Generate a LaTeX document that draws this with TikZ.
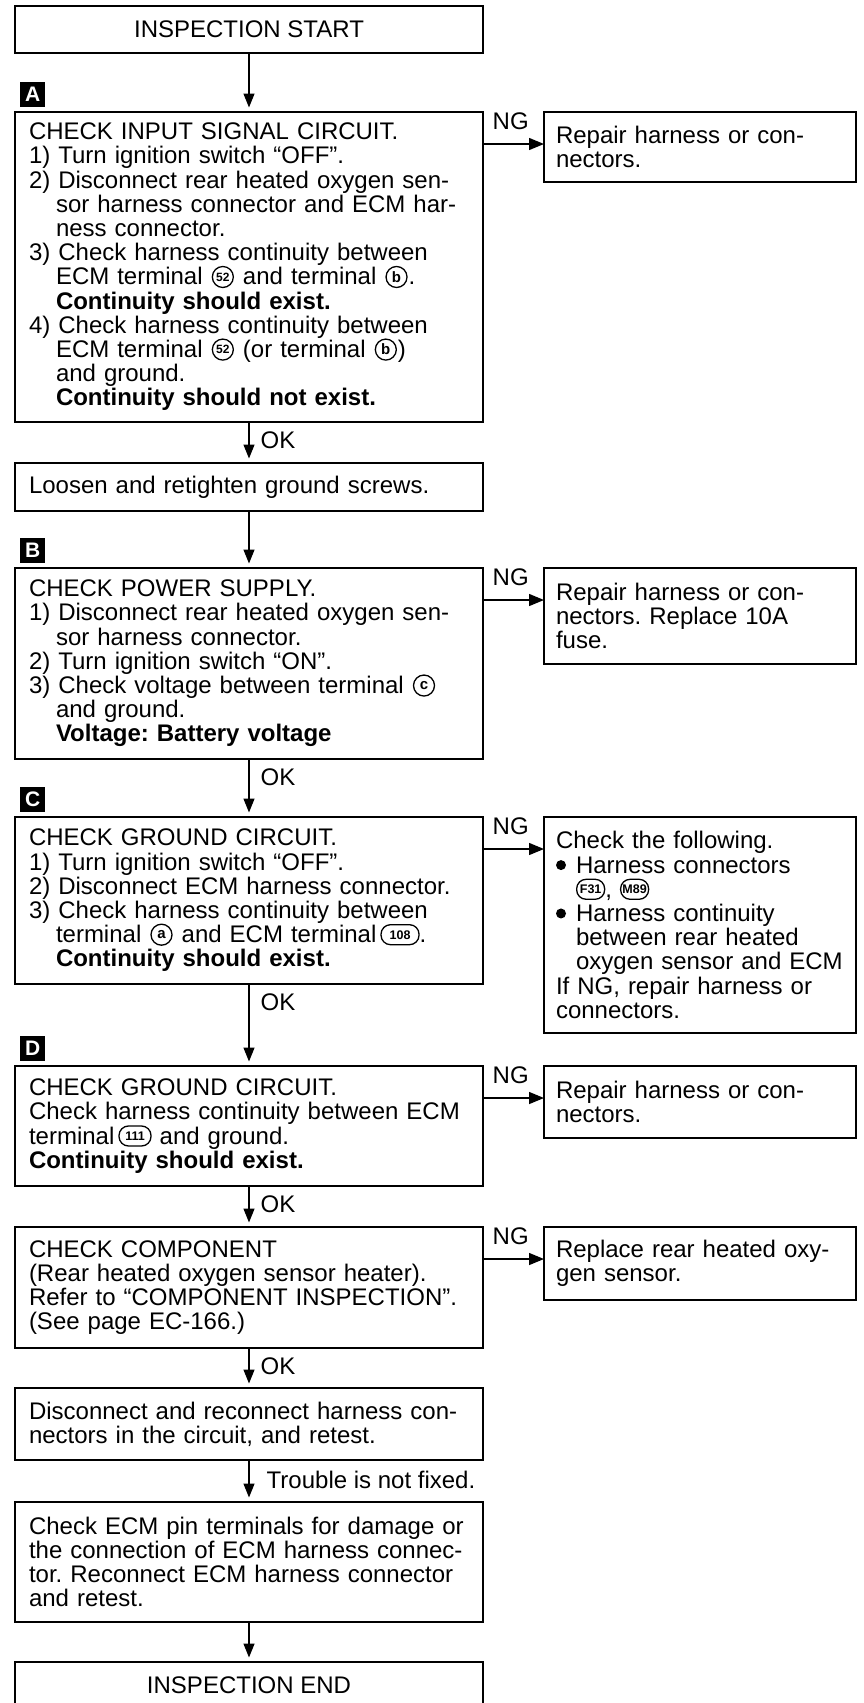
\documentclass[tikz,border=0pt]{standalone}
\usepackage{fontspec}
\setmainfont{Liberation Sans}
\usetikzlibrary{arrows.meta, positioning}
\tikzset{
    chk_box/.style={
        rectangle,
        draw=black,
        line width=1.8pt,
        outer sep=0pt,
        inner xsep=14pt,
        inner ysep=0pt,
        text width=440pt,
        align=left
    },
    chk_term/.style={
        rectangle,
        draw=black,
        line width=1.8pt,
        outer sep=0pt,
        inner sep=0pt,
        minimum width=468pt,
        align=center
    },
    chk_fix/.style={
        rectangle,
        draw=black,
        line width=1.8pt,
        outer sep=0pt,
        inner xsep=12pt,
        inner ysep=0pt,
        text width=288pt,
        align=left
    },
    chk_tag/.style={
        rectangle,
        fill=black,
        text=white,
        minimum size=25pt,
        inner sep=0pt,
        font=\bfseries\fontsize{21pt}{21pt}\selectfont
    },
    chk_mark/.style={
        rectangle,
        inner sep=0pt,
        outer sep=0pt,
        minimum size=0pt,
        text width=,
        align=center,
        anchor=center
    },
    chk_arrow/.style={
        -{Triangle[length=14pt, width=11pt]},
        line width=1.4pt,
        shorten >=4.5pt
    },
    chk_ng_arrow/.style={
        -{Triangle[length=15pt, width=12pt]},
        line width=1.4pt
    },
    chk_ng/.style={
        pos=0,
        anchor=south west,
        inner sep=0pt,
        xshift=9pt,
        yshift=14pt
    },
    chk_ok/.style={
        pos=0,
        anchor=west,
        inner sep=0pt,
        xshift=11pt,
        yshift=-18pt
    }
}
\newcommand{\ind}{\hspace*{27pt}}
\newcommand{\bind}{\hspace*{20pt}}
\newcommand{\blt}{\tikz[baseline=-8pt]\fill (0,0) circle (5pt);\hspace{10pt}}
\newcommand{\cterm}[2][12pt]{\hspace{1pt}\tikz[baseline=-8pt]{
  \draw[line width=1.3pt] (0,0) circle (10.5pt);
  \node[chk_mark, font=\bfseries\fontsize{#1}{#1}\selectfont] at (0,0) {#2};}\hspace{1pt}}
\newcommand{\pterm}[2][30pt]{\tikz[baseline=-8pt]{
  \draw[line width=1.3pt, rounded corners=9.5pt] (-#1/2,-10pt) rectangle (#1/2,10pt);
  \node[chk_mark, font=\bfseries\fontsize{12.5pt}{12.5pt}\selectfont] at (0,0) {#2};}}

\begin{document}
\begin{tikzpicture}[every node/.style={font=\fontsize{24pt}{24.2pt}\selectfont\frenchspacing}]
\useasboundingbox (0,0) rectangle (863pt,-1703pt);
\clip (0,0) rectangle (863pt,-1703pt);

\node[chk_term, minimum height=47pt, anchor=north west] (start) at (15pt,-6pt) {INSPECTION START};

\node[chk_box, minimum height=310pt, below=59pt of start] (chkA)
  {CHECK INPUT SIGNAL CIRCUIT.\\
   1) Turn ignition switch “OFF”.\\
   2) Disconnect rear heated oxygen sen-\\
   \ind sor harness connector and ECM har-\\
   \ind ness connector.\\
   3) Check harness continuity between\\
   \ind ECM terminal \cterm{52} and terminal \cterm[15pt]{b}.\\
   \ind\textbf{Continuity should exist.}\\
   4) Check harness continuity between\\
   \ind ECM terminal \cterm{52} (or terminal \cterm[15pt]{b})\\
   \ind and ground.\\
   \ind\textbf{Continuity should not exist.}};
\node[chk_box, minimum height=48pt, below=41pt of chkA] (ground)
  {Loosen and retighten ground screws.};
\node[chk_box, minimum height=191pt, below=57pt of ground] (chkB)
  {CHECK POWER SUPPLY.\\
   1) Disconnect rear heated oxygen sen-\\
   \ind sor harness connector.\\
   2) Turn ignition switch “ON”.\\
   3) Check voltage between terminal \cterm[15pt]{c}\\
   \ind and ground.\\
   \ind\textbf{Voltage: Battery voltage}};
\node[chk_box, minimum height=167pt, below=58pt of chkB] (chkC)
  {CHECK GROUND CIRCUIT.\\
   1) Turn ignition switch “OFF”.\\
   2) Disconnect ECM harness connector.\\
   3) Check harness continuity between\\
   \ind terminal \cterm[15pt]{a} and ECM terminal\,\pterm[38pt]{108}.\\
   \ind\textbf{Continuity should exist.}};
\node[chk_box, minimum height=120pt, below=82pt of chkC] (chkD)
  {CHECK GROUND CIRCUIT.\\
   Check harness continuity between ECM\\
   terminal\,\pterm[32pt]{111} and ground.\\
   \textbf{Continuity should exist.}};
\node[chk_box, minimum height=121pt, below=41pt of chkD] (comp)
  {CHECK COMPONENT\\
   (Rear heated oxygen sensor heater).\\
   Refer to “COMPONENT INSPECTION”.\\
   (See page EC-166.)};
\node[chk_box, minimum height=72pt, below=40pt of comp] (reconnect)
  {Disconnect and reconnect harness con-\\
   nectors in the circuit, and retest.};
\node[chk_box, minimum height=120pt, below=42pt of reconnect] (ecmpins)
  {Check ECM pin terminals for damage or\\
   the connection of ECM harness connec-\\
   tor. Reconnect ECM harness connector\\
   and retest.};
\node[chk_term, minimum height=46pt, below=40pt of ecmpins] (finish) {INSPECTION END};

\node[chk_tag, above right=5pt and 5pt of chkA.north west] (tagA) {A};
\node[chk_tag, above right=5pt and 5pt of chkB.north west] (tagB) {B};
\node[chk_tag, above right=5pt and 5pt of chkC.north west] (tagC) {C};
\node[chk_tag, above right=5pt and 5pt of chkD.north west] (tagD) {D};

\node[chk_fix, minimum height=70pt, right=61pt of chkA.north east, anchor=north west] (fixA)
  {Repair harness or con-\\nectors.};
\node[chk_fix, minimum height=96pt, right=61pt of chkB.north east, anchor=north west] (fixB)
  {Repair harness or con-\\nectors. Replace 10A\\fuse.};
\node[chk_fix, minimum height=216pt, right=61pt of chkC.north east, anchor=north west] (fixC)
  {Check the following.\\
   \blt Harness connectors\\
   \bind\pterm[28pt]{F31}, \pterm[28pt]{M89}\\
   \blt Harness continuity\\
   \bind between rear heated\\
   \bind oxygen sensor and ECM\\
   If NG, repair harness or\\
   connectors.};
\node[chk_fix, minimum height=72pt, right=61pt of chkD.north east, anchor=north west] (fixD)
  {Repair harness or con-\\nectors.};
\node[chk_fix, minimum height=73pt, right=61pt of comp.north east, anchor=north west] (fixComp)
  {Replace rear heated oxy-\\gen sensor.};

\draw[chk_arrow] (start) -- (chkA);
\draw[chk_arrow] (chkA) -- node[chk_ok] {OK} (ground);
\draw[chk_arrow] (ground) -- (chkB);
\draw[chk_arrow] (chkB) -- node[chk_ok] {OK} (chkC);
\draw[chk_arrow] (chkC) -- node[chk_ok] {OK} (chkD);
\draw[chk_arrow] (chkD) -- node[chk_ok] {OK} (comp);
\draw[chk_arrow] (comp) -- node[chk_ok] {OK} (reconnect);
\draw[chk_arrow] (reconnect) -- node[chk_ok, xshift=6pt, yshift=-2pt] {Trouble is not fixed.} (ecmpins);
\draw[chk_arrow] (ecmpins) -- (finish);

\draw[chk_ng_arrow] ([yshift=-32pt]chkA.north east) -- node[chk_ng] {NG} ([yshift=-32pt]fixA.north west);
\draw[chk_ng_arrow] ([yshift=-32pt]chkB.north east) -- node[chk_ng] {NG} ([yshift=-32pt]fixB.north west);
\draw[chk_ng_arrow] ([yshift=-32pt]chkC.north east) -- node[chk_ng] {NG} ([yshift=-32pt]fixC.north west);
\draw[chk_ng_arrow] ([yshift=-32pt]chkD.north east) -- node[chk_ng] {NG} ([yshift=-32pt]fixD.north west);
\draw[chk_ng_arrow] ([yshift=-32pt]comp.north east) -- node[chk_ng] {NG} ([yshift=-32pt]fixComp.north west);

\end{tikzpicture}
\end{document}
